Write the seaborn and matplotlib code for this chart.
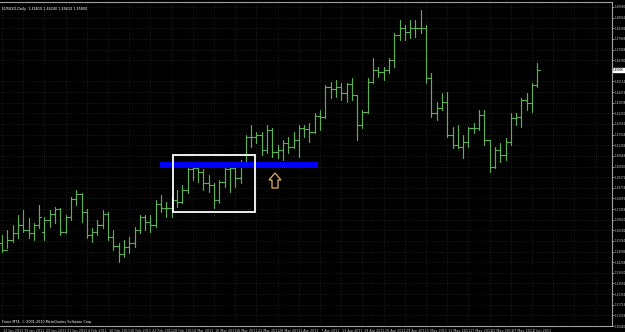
import numpy as np
import pandas as pd
import matplotlib
matplotlib.use("Agg")
import matplotlib.pyplot as plt
import matplotlib.transforms as mtransforms
from matplotlib.patches import Rectangle, Polygon
import seaborn as sns

# ---------------- data ----------------
dates = ["13 Jan 2011", "14 Jan", "17 Jan", "18 Jan", "19 Jan 2011", "20 Jan", "21 Jan", "24 Jan",
         "25 Jan 2011", "26 Jan", "27 Jan", "28 Jan", "31 Jan 2011", "1 Feb", "2 Feb", "3 Feb",
         "4 Feb 2011", "7 Feb", "8 Feb", "9 Feb", "10 Feb 2011", "11 Feb", "14 Feb", "15 Feb",
         "16 Feb 2011", "17 Feb", "18 Feb", "21 Feb", "22 Feb 2011", "23 Feb", "24 Feb", "25 Feb",
         "28 Feb 2011", "1 Mar", "2 Mar", "3 Mar", "4 Mar 2011", "7 Mar", "8 Mar", "9 Mar",
         "10 Mar 2011", "11 Mar", "14 Mar", "15 Mar", "16 Mar 2011", "17 Mar", "18 Mar", "21 Mar",
         "22 Mar 2011", "23 Mar", "24 Mar", "25 Mar", "28 Mar 2011", "29 Mar", "30 Mar", "31 Mar",
         "1 Apr 2011", "4 Apr", "5 Apr", "6 Apr", "7 Apr 2011", "8 Apr", "11 Apr", "12 Apr",
         "13 Apr 2011", "14 Apr", "15 Apr", "18 Apr", "19 Apr 2011", "20 Apr", "21 Apr", "22 Apr",
         "25 Apr 2011", "26 Apr", "27 Apr", "28 Apr", "29 Apr 2011", "2 May", "3 May", "4 May",
         "5 May 2011", "6 May", "9 May", "10 May", "11 May 2011", "12 May", "13 May", "16 May",
         "17 May 2011", "18 May", "19 May", "20 May", "23 May 2011", "24 May", "25 May", "26 May",
         "27 May 2011", "30 May", "31 May", "1 Jun", "2 Jun 2011", "3 Jun"]

opens = [1.3540, 1.3500, 1.3560, 1.3600, 1.3650, 1.3620, 1.3600, 1.3650, 1.3610, 1.3678,
         1.3715, 1.3745, 1.3610, 1.3696, 1.3803, 1.3834, 1.3727, 1.3590, 1.3611, 1.3653,
         1.3717, 1.3579, 1.3527, 1.3475, 1.3520, 1.3540, 1.3620, 1.3700, 1.3670, 1.3650,
         1.3775, 1.3755, 1.3750, 1.3800, 1.3790, 1.3860, 1.3985, 1.3990, 1.3970, 1.3900,
         1.3890, 1.3800, 1.3905, 1.3985, 1.3990, 1.3930, 1.4020, 1.4180, 1.4180, 1.4190,
         1.4100, 1.4220, 1.4090, 1.4100, 1.4140, 1.4120, 1.4160, 1.4230, 1.4225, 1.4210,
         1.4305, 1.4300, 1.4480, 1.4465, 1.4480, 1.4440, 1.4495, 1.4430, 1.4250, 1.4330,
         1.4510, 1.4580, 1.4570, 1.4580, 1.4640, 1.4790, 1.4830, 1.4810, 1.4830, 1.4830,
         1.4830, 1.4530, 1.4320, 1.4350, 1.4390, 1.4190, 1.4130, 1.4120, 1.4150, 1.4230,
         1.4230, 1.4310, 1.4160, 1.4000, 1.4100, 1.4070, 1.4150, 1.4290, 1.4300, 1.4400,
         1.4380, 1.4490]
highs = [1.3590, 1.3620, 1.3650, 1.3710, 1.3740, 1.3692, 1.3660, 1.3770, 1.3700, 1.3740,
         1.3760, 1.3750, 1.3710, 1.3820, 1.3860, 1.3840, 1.3745, 1.3630, 1.3680, 1.3740,
         1.3730, 1.3620, 1.3540, 1.3560, 1.3580, 1.3640, 1.3710, 1.3710, 1.3710, 1.3800,
         1.3830, 1.3790, 1.3820, 1.3860, 1.3890, 1.3990, 1.4030, 1.4000, 1.3985, 1.3950,
         1.3900, 1.3920, 1.4020, 1.4010, 1.4020, 1.4040, 1.4190, 1.4250, 1.4210, 1.4210,
         1.4250, 1.4230, 1.4130, 1.4160, 1.4180, 1.4210, 1.4250, 1.4250, 1.4260, 1.4320,
         1.4340, 1.4490, 1.4510, 1.4520, 1.4500, 1.4500, 1.4530, 1.4430, 1.4340, 1.4530,
         1.4650, 1.4600, 1.4600, 1.4650, 1.4800, 1.4880, 1.4850, 1.4880, 1.4880, 1.4940,
         1.4850, 1.4560, 1.4390, 1.4440, 1.4450, 1.4240, 1.4250, 1.4190, 1.4240, 1.4260,
         1.4340, 1.4340, 1.4160, 1.4120, 1.4140, 1.4170, 1.4320, 1.4320, 1.4410, 1.4440,
         1.4500, 1.4620]
lows = [1.3488, 1.3512, 1.3548, 1.3572, 1.3608, 1.3570, 1.3560, 1.3632, 1.3560, 1.3640,
        1.3660, 1.3590, 1.3600, 1.3680, 1.3770, 1.3670, 1.3570, 1.3550, 1.3590, 1.3630,
        1.3560, 1.3500, 1.3430, 1.3460, 1.3480, 1.3520, 1.3600, 1.3620, 1.3610, 1.3640,
        1.3730, 1.3700, 1.3700, 1.3760, 1.3780, 1.3840, 1.3920, 1.3910, 1.3860, 1.3850,
        1.3750, 1.3780, 1.3880, 1.3850, 1.3880, 1.3900, 1.4000, 1.4120, 1.4140, 1.4070,
        1.4080, 1.4060, 1.4050, 1.4040, 1.4080, 1.4110, 1.4060, 1.4180, 1.4150, 1.4200,
        1.4220, 1.4290, 1.4410, 1.4420, 1.4400, 1.4390, 1.4400, 1.4160, 1.4230, 1.4320,
        1.4500, 1.4540, 1.4520, 1.4560, 1.4600, 1.4760, 1.4760, 1.4770, 1.4780, 1.4800,
        1.4500, 1.4300, 1.4280, 1.4340, 1.4180, 1.4110, 1.4110, 1.4050, 1.4120, 1.4200,
        1.4220, 1.4130, 1.3970, 1.3990, 1.4030, 1.4040, 1.4130, 1.4250, 1.4240, 1.4340,
        1.4330, 1.4480]
closes = [1.3500, 1.3560, 1.3600, 1.3650, 1.3620, 1.3600, 1.3650, 1.3700, 1.3678, 1.3715,
          1.3745, 1.3610, 1.3696, 1.3803, 1.3834, 1.3727, 1.3590, 1.3611, 1.3653, 1.3717,
          1.3579, 1.3527, 1.3475, 1.3520, 1.3540, 1.3620, 1.3700, 1.3670, 1.3650, 1.3775,
          1.3755, 1.3750, 1.3800, 1.3790, 1.3860, 1.3985, 1.3990, 1.3970, 1.3900, 1.3890,
          1.3800, 1.3905, 1.3985, 1.3990, 1.3930, 1.4020, 1.4180, 1.4180, 1.4190, 1.4100,
          1.4220, 1.4090, 1.4100, 1.4140, 1.4120, 1.4160, 1.4230, 1.4225, 1.4210, 1.4305,
          1.4300, 1.4480, 1.4465, 1.4480, 1.4440, 1.4495, 1.4430, 1.4250, 1.4330, 1.4510,
          1.4580, 1.4570, 1.4580, 1.4640, 1.4790, 1.4830, 1.4810, 1.4830, 1.4830, 1.4830,
          1.4530, 1.4320, 1.4350, 1.4390, 1.4190, 1.4130, 1.4120, 1.4150, 1.4230, 1.4230,
          1.4310, 1.4160, 1.4000, 1.4100, 1.4070, 1.4150, 1.4290, 1.4300, 1.4400, 1.4380,
          1.4490, 1.4580]

price_ticks = [1.49580, 1.48942, 1.48304, 1.47666, 1.47028, 1.46390, 1.45114, 1.44476,
               1.43838, 1.43200, 1.42562, 1.41924, 1.41286, 1.40648, 1.40010, 1.39372,
               1.38734, 1.38096, 1.37458, 1.36820, 1.36182, 1.35544, 1.34906, 1.34268,
               1.33630, 1.32992, 1.32354, 1.31716, 1.31078, 1.30440]
level_price = 1.4010
title_text = "EURUSD,Daily  1.45810 1.46240 1.45610 1.45800"
copyright_text = "Forex MT4, \u00a9 2001-2010 MetaQuotes Software Corp."

# ---------------- layout constants (pixels) ----------------
W, H = 625, 332
PX_BAR0, PX_PER_BAR = 2.0, 5.3
PY_REF, P_REF, P_PER_PX = 10.0, 1.4940, 0.0006
AX_RIGHT_PX, AX_TOP_PX, AX_BOT_PX = 612, 2, 326
FS = 2.4
FSY = 2.0


def xd(px):
    return (px - PX_BAR0) / PX_PER_BAR


def yd(py):
    return P_REF - (py - PY_REF) * P_PER_PX


GREEN = "#5cb055"
FG = "#c8c8c8"

sns.set_theme(style="dark")
plt.rcParams["font.family"] = ["DejaVu Sans"]

fig = plt.figure(figsize=(W / 100, H / 100), dpi=100, facecolor="black")
ax = fig.add_axes([0, 1 - AX_BOT_PX / H, AX_RIGHT_PX / W, (AX_BOT_PX - AX_TOP_PX) / H])
ax.set_facecolor("black")

n = len(closes)

# grid (dotted)
for i in range(0, n + 12, 4):
    ax.axvline(i, color="#303030", lw=0.5, ls=(0, (1, 2)), zorder=0)
for p in price_ticks:
    ax.axhline(p, color="#303030", lw=0.5, ls=(0, (1, 2)), zorder=0)

# OHLC bars via seaborn lineplot with units
rows = []
for i in range(n):
    rows += [(i, lows[i], 3 * i), (i, highs[i], 3 * i)]
    rows += [(i - 0.42, opens[i], 3 * i + 1), (i, opens[i], 3 * i + 1)]
    rows += [(i, closes[i], 3 * i + 2), (i + 0.42, closes[i], 3 * i + 2)]
segs = pd.DataFrame(rows, columns=["x", "price", "seg"])
sns.lineplot(data=segs, x="x", y="price", units="seg", estimator=None, sort=False,
             color=GREEN, lw=0.85, ax=ax, legend=False)

# horizontal blue level
ax.plot([xd(160), xd(318)], [level_price, level_price], color="#0000ff", lw=4.3,
        solid_capstyle="butt", zorder=3)

# white rectangle
x0, x1 = xd(173), xd(255)
y0, y1 = yd(212), yd(155)
ax.add_patch(Rectangle((x0, y0), x1 - x0, y1 - y0, fill=False, ec="white", lw=1.3, zorder=4))

# up arrow (outline)
arrow_px = [(269, 180), (275, 173), (281, 180), (278, 180), (278, 188), (272, 188), (272, 180)]
ax.add_patch(Polygon([(xd(px), yd(py)) for px, py in arrow_px], closed=True, fill=False,
                     ec="#e0b060", lw=0.9, zorder=4))

ax.set_xlim(xd(0), xd(AX_RIGHT_PX))
ax.set_ylim(yd(AX_BOT_PX), yd(AX_TOP_PX))

# x ticks
xt = list(range(0, n, 4))
ax.set_xticks(xt)
ax.set_xticklabels([dates[i] for i in xt], fontsize=FS, color=FG, ha="left")
ax.tick_params(axis="x", colors=FG, length=1.5, width=0.5, pad=0.6, direction="out")
for lbl in ax.get_xticklabels():
    lbl.set_transform(lbl.get_transform() + mtransforms.ScaledTranslation(1.2 / 100, 0, fig.dpi_scale_trans))

# y ticks on right
ax.yaxis.tick_right()
ax.set_yticks(price_ticks)
ax.set_yticklabels([f"{p:.5f}" for p in price_ticks], fontsize=FSY, color=FG)
ax.tick_params(axis="y", colors=FG, length=1.2, width=0.5, pad=0.5, direction="out")
ax.set_xlabel("")
ax.set_ylabel("")

ax.spines["left"].set_visible(False)
for s in ["right", "bottom", "top"]:
    ax.spines[s].set_visible(True)
    ax.spines[s].set_color("#a0a0a0")
    ax.spines[s].set_linewidth(0.8)
ax.grid(False)

# current price box
trans = mtransforms.blended_transform_factory(ax.transAxes, ax.transData)
ax.text(1.002, closes[-1], f"{closes[-1]:.5f}", transform=trans, fontsize=FSY, color="black",
        va="center", ha="left", bbox=dict(boxstyle="square,pad=0.15", fc="white", ec="white"),
        zorder=10, clip_on=False)

ax.text(0.004, 0.985, title_text, transform=ax.transAxes, fontsize=FS, color="white",
        va="top", ha="left")
ax.text(0.004, 0.006, copyright_text, transform=ax.transAxes, fontsize=FS, color="white",
        va="bottom", ha="left")

fig.savefig("out.png", dpi=100, facecolor="black")
